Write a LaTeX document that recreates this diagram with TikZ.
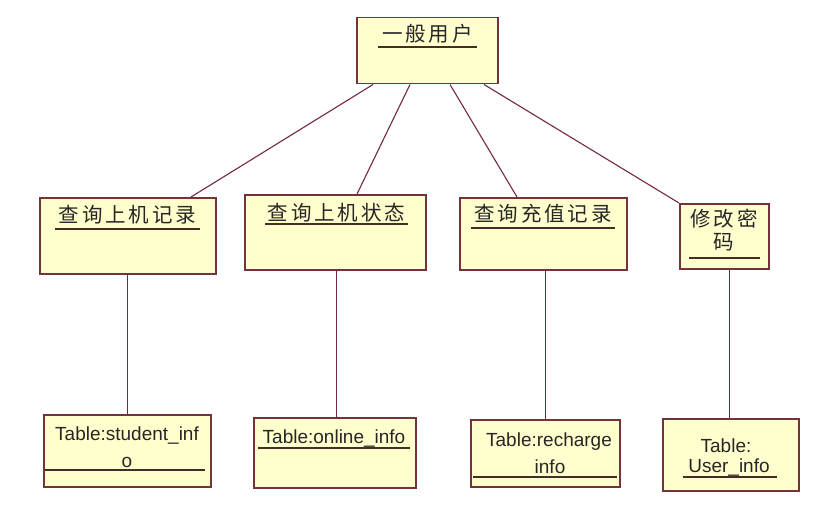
\documentclass[tikz,border=0pt]{standalone}
\usepackage{fontspec}
\setmainfont{Liberation Sans}
\newfontfamily\cjk[LetterSpace=14]{Noto Sans CJK SC}
\definecolor{boxfill}{RGB}{255,255,206}
\definecolor{boxline}{RGB}{115,50,60}
\definecolor{conn}{RGB}{115,40,65}
\definecolor{uline}{RGB}{70,45,35}
\tikzset{
  box/.style={draw=boxline, fill=boxfill, line width=1.5pt, inner sep=0pt, anchor=north west},
  cn/.style={font=\cjk\fontsize{20.5}{24}\selectfont, inner sep=0pt, text=black!85},
  lt/.style={font=\fontsize{19}{22}\selectfont, inner sep=0pt, anchor=base, text=black!85},
  ul/.style={draw=uline, line width=1.3pt},
  link/.style={draw=conn, line width=1.1pt}
}
\begin{document}
\begin{tikzpicture}[x=1pt,y=-1pt]
\useasboundingbox (0,0) rectangle (829,508);
% boxes
\node[box, minimum width=141pt, minimum height=66pt] (top) at (356,17) {};
\node[box, minimum width=176pt, minimum height=76pt] (b1) at (39,197) {};
\node[box, minimum width=181pt, minimum height=75pt] (b2) at (244,194) {};
\node[box, minimum width=167pt, minimum height=72pt] (b3) at (459,197) {};
\node[box, minimum width=89pt, minimum height=65pt] (b4) at (679,203) {};
\node[box, minimum width=167pt, minimum height=72pt] (t1) at (43,414) {};
\node[box, minimum width=162pt, minimum height=70pt] (t2) at (253,417) {};
\node[box, minimum width=149pt, minimum height=67pt] (t3) at (470,419) {};
\node[box, minimum width=136pt, minimum height=72pt] (t4) at (662,418) {};
% connectors
\draw[link] ([xshift=17pt]top.south west) -- ([xshift=152pt]b1.north west);
\draw[link] ([xshift=54pt]top.south west) -- ([xshift=113pt]b2.north west);
\draw[link] ([xshift=94pt]top.south west) -- ([xshift=58pt]b3.north west);
\draw[link] ([xshift=128pt]top.south west) -- (b4.north west);
\draw[link] (b1.south) -- (b1.south |- t1.north);
\draw[link] ([xshift=1.5pt]b2.south) -- ([xshift=1.5pt]b2.south |- t2.north);
\draw[link] ([xshift=2.5pt]b3.south) -- ([xshift=2.5pt]b3.south |- t3.north);
\draw[link] ([xshift=5.5pt]b4.south) -- ([xshift=5.5pt]b4.south |- t4.north);
% texts
\node[cn] (ttop) at (427.5,34) {一般用户};
\draw[ul] (378,47) -- (477,47);
\node[cn] (tb1) at (127.5,214.5) {查询上机记录};
\draw[ul] (55,229) -- (200,229);
\node[cn] (tb2) at (336.5,212.5) {查询上机状态};
\draw[ul] (265,224) -- (408,224);
\node[cn] (tb3) at (543,214) {查询充值记录};
\draw[ul] (471,228) -- (615,228);
\node[cn] (tb4a) at (724,219) {修改密};
\node[cn] (tb4b) at (724,242.5) {码};
\draw[ul] (689,258) -- (760,258);
\node[lt] (tt1a) at (127,440) {Table:student\_inf};
\node[lt] (tt1b) at (127,467) {o};
\draw[ul] (45,470) -- (205,470);
\node[lt] (tt2) at (334,443.5) {Table:online\_info};
\draw[ul] (258,448) -- (410,448);
\node[lt] (tt3a) at (549,446) {Table:recharge};
\node[lt] (tt3b) at (550,473) {info};
\draw[ul] (473,477) -- (617,477);
\node[lt] (tt4a) at (726,452) {Table:};
\node[lt] (tt4b) at (729,472.5) {User\_info};
\draw[ul] (683,477) -- (777,477);
\end{tikzpicture}
\end{document}
